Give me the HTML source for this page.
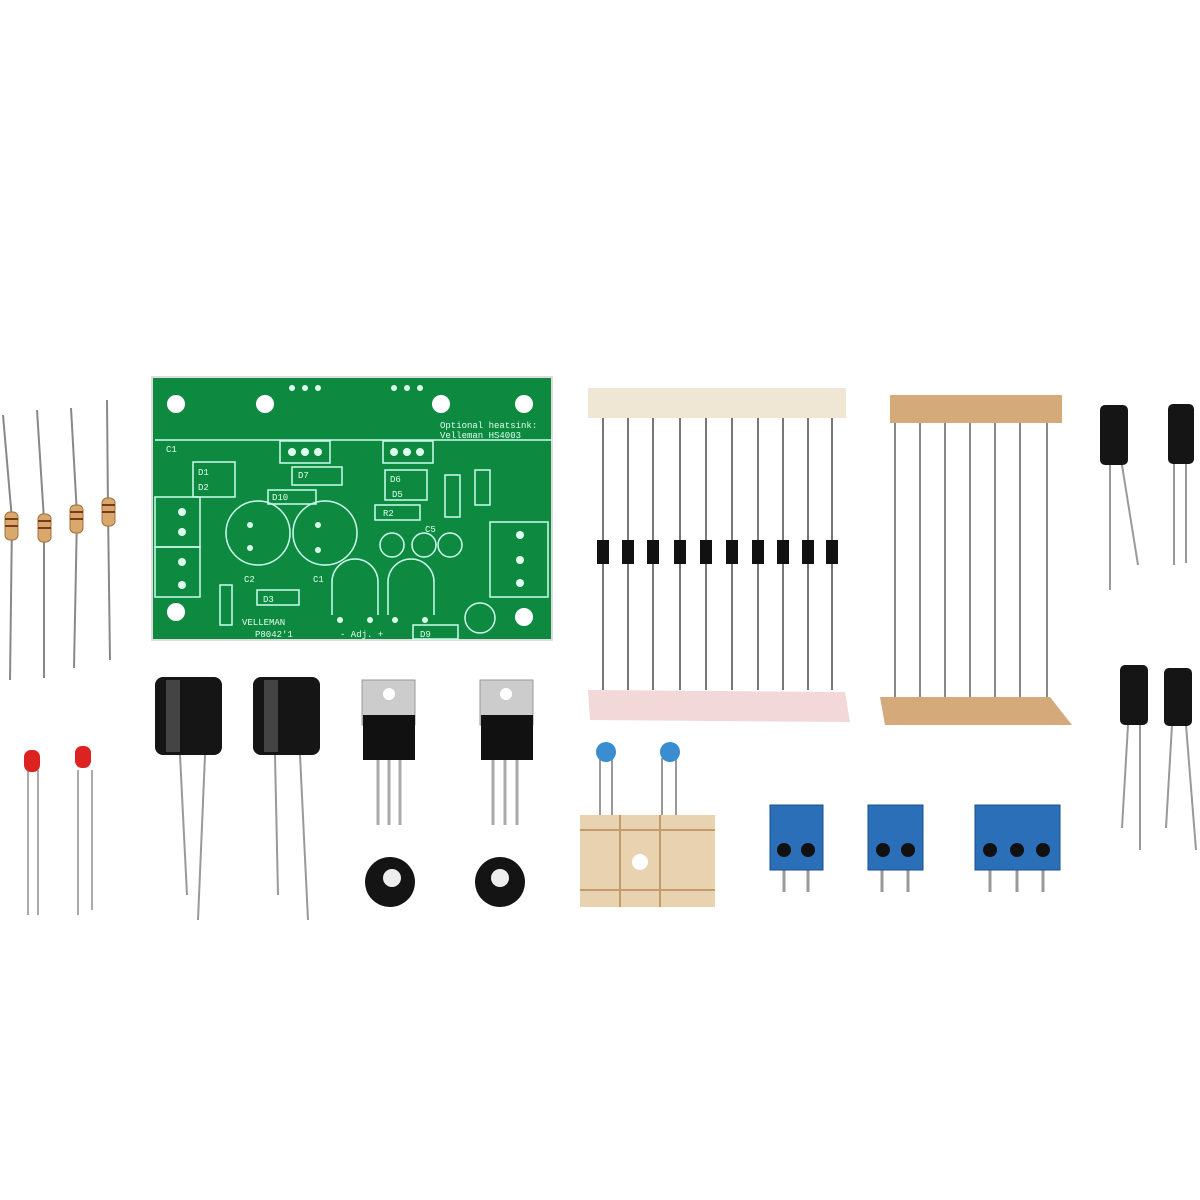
<!DOCTYPE html>
<html><head><meta charset="utf-8"><style>html,body{margin:0;padding:0;background:#fff}svg{display:block}</style></head>
<body>
<svg width="1200" height="1200" viewBox="0 0 1200 1200" xmlns="http://www.w3.org/2000/svg" font-family="Liberation Mono, monospace">
<rect width="1200" height="1200" fill="#fff"/>
<!-- resistors top-left -->
<g stroke="#888" stroke-width="2" fill="none">
<path d="M3 415 L12 520 L10 680"/><path d="M37 410 L44 520 L44 678"/><path d="M71 408 L77 515 L74 668"/><path d="M107 400 L108 510 L110 660"/>
</g>
<g fill="#d9a86c" stroke="#a0703a" stroke-width="1">
<rect x="5" y="512" width="13" height="28" rx="5"/><rect x="38" y="514" width="13" height="28" rx="5"/><rect x="70" y="505" width="13" height="28" rx="5"/><rect x="102" y="498" width="13" height="28" rx="5"/>
</g>
<g stroke="#7a3a1a" stroke-width="2"><path d="M5 519h13M5 526h13M38 521h13M38 528h13M70 512h13M70 519h13M102 505h13M102 512h13"/></g>
<!-- LEDs -->
<g stroke="#aaa" stroke-width="2"><path d="M28 770V915M38 770V915M78 770V915M92 770V910"/></g>
<rect x="24" y="750" width="16" height="22" rx="7" fill="#d22"/><rect x="75" y="746" width="16" height="22" rx="7" fill="#d22"/>
<!-- PCB -->
<rect x="152" y="377" width="400" height="263" fill="#0e8a40" stroke="#ddd" stroke-width="2"/>
<g fill="#fff"><circle cx="176" cy="404" r="9"/><circle cx="265" cy="404" r="9"/><circle cx="441" cy="404" r="9"/><circle cx="524" cy="404" r="9"/><circle cx="176" cy="612" r="9"/><circle cx="524" cy="617" r="9"/></g>
<g stroke="#cfe" stroke-width="1.5" fill="none">
<path d="M155 440H552"/><rect x="280" y="441" width="50" height="22"/><rect x="383" y="441" width="50" height="22"/>
<circle cx="258" cy="533" r="32"/><circle cx="325" cy="533" r="32"/>
<path d="M332 615V582a23 23 0 0 1 46 0V615M388 615V582a23 23 0 0 1 46 0V615"/>
<rect x="155" y="497" width="45" height="50"/><rect x="155" y="547" width="45" height="50"/>
<rect x="490" y="522" width="58" height="75"/>
<circle cx="392" cy="545" r="12"/><circle cx="424" cy="545" r="12"/><circle cx="450" cy="545" r="12"/><circle cx="480" cy="618" r="15"/>
<rect x="193" y="462" width="42" height="35"/><rect x="292" y="467" width="50" height="18"/><rect x="268" y="490" width="48" height="14"/><rect x="385" y="470" width="42" height="30"/><rect x="375" y="505" width="45" height="15"/><rect x="445" y="475" width="15" height="42"/><rect x="475" y="470" width="15" height="35"/><rect x="257" y="590" width="42" height="15"/><rect x="413" y="625" width="45" height="14"/><rect x="220" y="585" width="12" height="40"/>
</g>
<g fill="#dfe">
<circle cx="292" cy="388" r="3"/><circle cx="305" cy="388" r="3"/><circle cx="318" cy="388" r="3"/><circle cx="394" cy="388" r="3"/><circle cx="407" cy="388" r="3"/><circle cx="420" cy="388" r="3"/>
<circle cx="292" cy="452" r="4"/><circle cx="305" cy="452" r="4"/><circle cx="318" cy="452" r="4"/><circle cx="394" cy="452" r="4"/><circle cx="407" cy="452" r="4"/><circle cx="420" cy="452" r="4"/>
<circle cx="182" cy="512" r="4"/><circle cx="182" cy="532" r="4"/><circle cx="182" cy="562" r="4"/><circle cx="182" cy="585" r="4"/><circle cx="520" cy="535" r="4"/><circle cx="520" cy="560" r="4"/><circle cx="520" cy="583" r="4"/>
<circle cx="250" cy="525" r="3"/><circle cx="250" cy="548" r="3"/><circle cx="318" cy="525" r="3"/><circle cx="318" cy="550" r="3"/>
<circle cx="340" cy="620" r="3"/><circle cx="370" cy="620" r="3"/><circle cx="395" cy="620" r="3"/><circle cx="425" cy="620" r="3"/>
</g>
<g fill="#dfe" font-size="9">
<text x="440" y="428">Optional heatsink:</text><text x="440" y="438">Velleman HS4003</text>
<text x="242" y="625">VELLEMAN</text><text x="255" y="637">P8042'1</text><text x="340" y="637">- Adj. +</text>
<text x="298" y="478">D7</text><text x="390" y="482">D6</text><text x="392" y="497">D5</text><text x="272" y="500">D10</text><text x="383" y="516">R2</text><text x="263" y="602">D3</text><text x="244" y="582">C2</text><text x="313" y="582">C1</text><text x="198" y="475">D1</text><text x="198" y="490">D2</text><text x="425" y="532">C5</text><text x="420" y="637">D9</text><text x="166" y="452">C1</text>
</g>
<!-- big capacitors -->
<g stroke="#999" stroke-width="2"><path d="M180 755L187 895M205 755L198 920M275 755L278 895M300 755L308 920"/></g>
<rect x="155" y="677" width="67" height="78" rx="8" fill="#151515"/><rect x="253" y="677" width="67" height="78" rx="8" fill="#151515"/>
<rect x="166" y="680" width="14" height="72" fill="#444"/><rect x="264" y="680" width="14" height="72" fill="#444"/>
<!-- regulators -->
<g stroke="#aaa" stroke-width="3"><path d="M378 760V825M389 760V825M400 760V825M493 760V825M505 760V825M517 760V825"/></g>
<path d="M362 680H415V725H362Z" fill="#ccc" stroke="#999"/><circle cx="389" cy="694" r="6" fill="#fff"/>
<rect x="363" y="715" width="52" height="45" fill="#111"/>
<path d="M480 680H533V725H480Z" fill="#ccc" stroke="#999"/><circle cx="506" cy="694" r="6" fill="#fff"/>
<rect x="481" y="715" width="52" height="45" fill="#111"/>
<!-- trimmers -->
<circle cx="390" cy="882" r="25" fill="#141414"/><circle cx="392" cy="878" r="9" fill="#eee"/><circle cx="500" cy="882" r="25" fill="#141414"/><circle cx="500" cy="878" r="9" fill="#eee"/>
<!-- diode strip -->
<rect x="588" y="388" width="258" height="30" fill="#efe6d4"/>
<path d="M588 690L845 692L850 722L590 720Z" fill="#f2d8d8"/>
<g stroke="#777" stroke-width="2"><path d="M603 418V690M628 418V690M653 418V690M680 418V690M706 418V690M732 418V690M758 418V690M783 418V690M808 418V690M832 418V690"/></g>
<g fill="#111"><rect x="597" y="540" width="12" height="24"/><rect x="622" y="540" width="12" height="24"/><rect x="647" y="540" width="12" height="24"/><rect x="674" y="540" width="12" height="24"/><rect x="700" y="540" width="12" height="24"/><rect x="726" y="540" width="12" height="24"/><rect x="752" y="540" width="12" height="24"/><rect x="777" y="540" width="12" height="24"/><rect x="802" y="540" width="12" height="24"/><rect x="826" y="540" width="12" height="24"/></g>
<!-- resistor strip -->
<rect x="890" y="395" width="172" height="28" fill="#d4aa7a"/>
<path d="M880 697L1050 697L1072 725L885 725Z" fill="#d4aa7a"/>
<g stroke="#888" stroke-width="2"><path d="M895 423V697M920 423V697M945 423V697M970 423V697M995 423V697M1020 423V697M1047 423V697"/></g>
<!-- small caps -->
<g stroke="#999" stroke-width="2"><path d="M1110 465V590M1122 465L1138 565M1174 463V565M1186 463V563M1128 725L1122 828M1140 725V850M1172 725L1166 828M1186 725L1196 850"/></g>
<g fill="#151515"><rect x="1100" y="405" width="28" height="60" rx="5"/><rect x="1168" y="404" width="26" height="60" rx="5"/><rect x="1120" y="665" width="28" height="60" rx="5"/><rect x="1164" y="668" width="28" height="58" rx="5"/></g>
<!-- ceramic caps -->
<rect x="580" y="815" width="135" height="92" fill="#e9d2b0"/>
<g stroke="#c49a6a" stroke-width="2"><path d="M580 830H715M580 890H715M620 815V907M660 815V907"/></g>
<circle cx="640" cy="862" r="8" fill="#fff"/>
<g stroke="#999" stroke-width="2"><path d="M600 758V815M612 758V815M662 758V815M676 758V815"/></g>
<ellipse cx="606" cy="752" rx="10" ry="10" fill="#3a8ed0"/><ellipse cx="670" cy="752" rx="10" ry="10" fill="#3a8ed0"/>
<!-- terminal blocks -->
<g stroke="#999" stroke-width="3"><path d="M784 870V892M808 870V892M882 870V892M908 870V892M990 870V892M1017 870V892M1043 870V892"/></g>
<g fill="#2a6fb8" stroke="#1a4f88"><rect x="770" y="805" width="53" height="65"/><rect x="868" y="805" width="55" height="65"/><rect x="975" y="805" width="85" height="65"/></g>
<g fill="#111"><circle cx="784" cy="850" r="7"/><circle cx="808" cy="850" r="7"/><circle cx="883" cy="850" r="7"/><circle cx="908" cy="850" r="7"/><circle cx="990" cy="850" r="7"/><circle cx="1017" cy="850" r="7"/><circle cx="1043" cy="850" r="7"/></g>
</svg>
</body></html>
